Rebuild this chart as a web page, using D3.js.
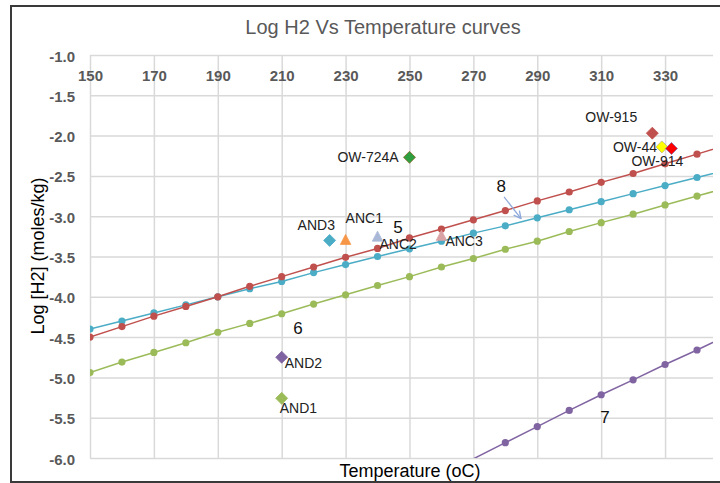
<!DOCTYPE html>
<html>
<head>
<meta charset="utf-8">
<script src="https://cdn.jsdelivr.net/npm/d3@7"></script>
<style>
  html, body { margin: 0; padding: 0; background: #fff; }
  svg { display: block; font-family: "Liberation Sans", Arial, sans-serif; }
</style>
</head>
<body>
<svg id="chart" width="720" height="483"></svg>
<script>
// ---------- data ----------
const temps = [150,160,170,180,190,200,210,220,230,240,250,260,270,280,290,300,310,320,330,340,350];
const seriesRed   = [-4.50,-4.37,-4.24,-4.12,-4.00,-3.87,-3.75,-3.63,-3.51,-3.40,-3.27,-3.16,-3.045,-2.93,-2.81,-2.70,-2.58,-2.47,-2.35,-2.23,-2.11];
const seriesBlue  = [-4.40,-4.30,-4.20,-4.10,-4.00,-3.90,-3.81,-3.70,-3.60,-3.50,-3.405,-3.31,-3.21,-3.12,-3.02,-2.92,-2.82,-2.72,-2.62,-2.52,-2.42];
const seriesGreen = [-4.94,-4.81,-4.69,-4.57,-4.44,-4.33,-4.21,-4.09,-3.975,-3.86,-3.75,-3.63,-3.525,-3.41,-3.31,-3.19,-3.08,-2.975,-2.86,-2.75,-2.64];
const purpleTemps = [260,270,280,290,300,310,320,330,340,350];
const seriesPurple = [-6.21,-6.01,-5.81,-5.61,-5.41,-5.215,-5.03,-4.84,-4.66,-4.47];

const sampleNames = ["OW-724A","AND3","ANC1","ANC2","ANC3","OW-915","OW-44","OW-914","AND2","AND1"];
const sampleTemps = [250,225,230,240,260,326,329,332,210,210];
const sampleLogH2 = [-2.27,-3.30,-3.30,-3.26,-3.25,-1.97,-2.14,-2.16,-4.75,-5.26];
const sampleShapes = ["diamond","diamond","triangle","triangle","triangle","diamond","diamond","diamond","diamond","diamond"];

const curveNotes = ["5","6","7","8"];
const noteTemps  = [246.4,215.1,311.2,278.7];
const noteLogH2  = [-3.13,-4.385,-5.49,-2.62];

const xTicks = [150,170,190,210,230,250,270,290,310,330];
const yTicks = [-1.0,-1.5,-2.0,-2.5,-3.0,-3.5,-4.0,-4.5,-5.0,-5.5,-6.0];

// ---------- layout ----------
const svg = d3.select("#chart");
const L = 90, R = 713, T = 55, B = 458;
const x = d3.scaleLinear().domain([150,345]).range([L,R]);
const y = d3.scaleLinear().domain([-1,-6]).range([T,B]);

// outer border
svg.append("rect").attr("x",11).attr("y",6).attr("width",760).attr("height",476)
  .attr("fill","#fff").attr("stroke","#3a3a3a").attr("stroke-width",2);

// title
svg.append("text").attr("x",383).attr("y",34).attr("text-anchor","middle")
  .attr("font-size",20).attr("fill","#595959").text("Log H2 Vs Temperature curves");

// grid
const gx = svg.append("g").attr("transform",`translate(0,${T})`)
  .call(d3.axisBottom(x).tickValues(xTicks).tickSize(B-T).tickFormat(""));
gx.select(".domain").remove();
gx.selectAll("line").attr("stroke","#d9d9d9").attr("stroke-width",1.5);

const gy = svg.append("g").attr("transform",`translate(${L},0)`)
  .call(d3.axisRight(y).tickValues(yTicks).tickSize(R-L).tickFormat(""));
gy.select(".domain").remove();
gy.selectAll("line").attr("stroke","#d9d9d9").attr("stroke-width",1.5);

// tick labels
const ax = svg.append("g").attr("transform",`translate(0,${T})`)
  .call(d3.axisBottom(x).tickValues(xTicks).tickSize(0).tickPadding(15).tickFormat(d => d));
ax.select(".domain").remove();
ax.selectAll("text").attr("font-size",15).attr("font-weight","bold").attr("fill","#595959")
  .attr("font-family","'Liberation Sans', Arial, sans-serif");

const ay = svg.append("g").attr("transform",`translate(${L},0)`)
  .call(d3.axisLeft(y).tickValues(yTicks).tickSize(0).tickPadding(15).tickFormat(d => d.toFixed(1)));
ay.select(".domain").remove();
ay.selectAll("text").attr("font-size",15).attr("font-weight","bold").attr("fill","#595959")
  .attr("font-family","'Liberation Sans', Arial, sans-serif").attr("dy","0.4em");

// axis titles
svg.append("text").attr("x",410).attr("y",477).attr("text-anchor","middle")
  .attr("font-size",18).attr("fill","#000").text("Temperature (oC)");
svg.append("text").attr("transform","translate(44,256) rotate(-90)").attr("text-anchor","middle")
  .attr("font-size",18).attr("fill","#000").text("Log [H2] (moles/kg)");

// clip
svg.append("defs").append("clipPath").attr("id","plotclip")
  .append("rect").attr("x",L).attr("y",T-6).attr("width",R-L).attr("height",B-T+6);

const plot = svg.append("g").attr("clip-path","url(#plotclip)");

const line = d3.line().x(d => x(d[0])).y(d => y(d[1]));
const curves = [
  {t: temps, v: seriesGreen, c: "#9BBB59"},
  {t: temps, v: seriesBlue,  c: "#4BACC6"},
  {t: temps, v: seriesRed,   c: "#C0504D"},
  {t: purpleTemps, v: seriesPurple, c: "#8064A2"}
];
curves.forEach(s => {
  const pts = s.t.map((t,i) => [t, s.v[i]]);
  plot.append("path").datum(pts).attr("d",line).attr("fill","none")
    .attr("stroke",s.c).attr("stroke-width",1.5);
  plot.selectAll(null).data(pts.filter(p => p[0] <= 345 && p[1] >= -6 && p[1] <= -1)).enter()
    .append("circle").attr("cx",d => x(d[0])).attr("cy",d => y(d[1])).attr("r",3.6)
    .attr("fill",s.c);
});

// annotation arrow for "8"
svg.append("defs").append("marker").attr("id","arr").attr("viewBox","0 0 10 10")
  .attr("refX",9).attr("refY",5).attr("markerWidth",7).attr("markerHeight",7).attr("orient","auto")
  .append("path").attr("d","M1,1 L9,5 L1,9").attr("fill","none").attr("stroke","#8EA9DB").attr("stroke-width",1.5);
svg.append("line").attr("x1",x(279.6)).attr("y1",y(-2.76)).attr("x2",x(284.9)).attr("y2",y(-3.03))
  .attr("stroke","#8EA9DB").attr("stroke-width",1.3).attr("marker-end","url(#arr)");

// samples
const sampleColors = {
  "OW-724A": ["#2E9E3E","#8a6a2a"], "AND3": ["#4BACC6","#4BACC6"], "ANC1": ["#F79646","#F79646"],
  "ANC2": ["#AAB8D8","#AAB8D8"], "ANC3": ["#D9A3A6","#D9A3A6"], "OW-915": ["#C0504D","#C0504D"],
  "OW-44": ["#FFFF00","#b8b880"], "OW-914": ["#FF0000","#8064A2"], "AND2": ["#8064A2","#8064A2"],
  "AND1": ["#9BBB59","#9BBB59"]
};
const labelOffsets = {
  "OW-724A": [-72, 5, "start"], "AND3": [-32, -10, "start"], "ANC1": [0, -17, "start"],
  "ANC2": [2, 12, "start"], "ANC3": [4, 10, "start"], "OW-915": [-67, -11, "start"],
  "OW-44": [-49, 5, "start"], "OW-914": [-40, 18, "start"], "AND2": [3, 11, "start"],
  "AND1": [-2, 15, "start"]
};
const diamond = "M0,-6 L6,0 L0,6 L-6,0 Z";
const triangle = "M0,-6 L5.2,4 L-5.2,4 Z";

const labelsG = svg.append("g");
const marksG = svg.append("g");
sampleNames.forEach((n,i) => {
  const px = x(sampleTemps[i]), py = y(sampleLogH2[i]);
  const [fill, stroke] = sampleColors[n];
  const off = labelOffsets[n];
  labelsG.append("text").attr("x",px+off[0]).attr("y",py+off[1]).attr("text-anchor",off[2])
    .attr("font-size",14).attr("fill","#222").text(n);
  marksG.append("path").attr("d", sampleShapes[i] === "diamond" ? diamond : triangle)
    .attr("transform",`translate(${px},${py})`).attr("fill",fill).attr("stroke",stroke).attr("stroke-width",0.8);
});

// curve number notes
curveNotes.forEach((n,i) => {
  svg.append("text").attr("x",x(noteTemps[i])).attr("y",y(noteLogH2[i])).attr("dy","0.35em")
    .attr("text-anchor","middle").attr("font-size",17).attr("fill","#111").text(n);
});
</script>
</body>
</html>
